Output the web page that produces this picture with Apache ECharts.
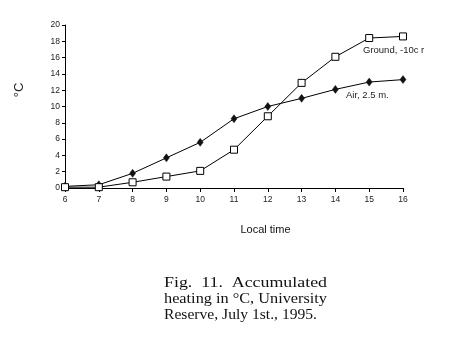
<!DOCTYPE html>
<html><head><meta charset="utf-8">
<script src="https://cdn.jsdelivr.net/npm/echarts@6/dist/echarts.min.js"></script>
<style>html,body{margin:0;padding:0;background:#fff}#c{width:450px;height:350px}</style>
</head><body><div id="c"></div>
<script>
var hours = [6,7,8,9,10,11,12,13,14,15,16];
var airValues = [0.2,0.4,1.8,3.7,5.6,8.5,10.0,11.0,12.1,13.0,13.3];
var groundValues = [0.1,0.1,0.7,1.4,2.1,4.7,8.8,12.9,16.1,18.4,18.6];
var airLabel = 'Air, 2.5 m.';
var groundLabel = 'Ground, -10c r';
var yTitle = '°C';
var xTitle = 'Local time';
var caption = ['Fig.  11.  Accumulated', 'heating in °C, University', 'Reserve, July 1st., 1995.'];

function pairs(xs, ys){ return xs.map(function(x,i){return [x, ys[i]];}); }
var capFont = '15.5px Liberation Serif, Times New Roman';
var capTargets = [163, 163, 153];
var capCenters = [283.3, 298.8, 315.3];
var mctx = document.createElement('canvas').getContext('2d');
mctx.font = capFont;
var capGraphics = caption.map(function(line, i){
  var w = mctx.measureText(line).width;
  return {type:'text', x:164, y:capCenters[i], scaleX: capTargets[i]/w, scaleY:1,
    style:{text:line, font:capFont, fill:'#111', verticalAlign:'middle', align:'left'}};
});

var chart = echarts.init(document.getElementById('c'), null, {renderer:'canvas'});
var axisFont = {fontFamily:'Liberation Sans, Arial', fontSize:8.5, color:'#222'};
chart.setOption({
  animation:false,
  backgroundColor:'#fff',
  grid:{left:65, right:47, top:25, bottom:162},
  xAxis:{type:'value', min:6, max:16, interval:1,
    axisLine:{lineStyle:{color:'#000', width:1}},
    axisTick:{inside:false, length:4, lineStyle:{color:'#000'}},
    splitLine:{show:false},
    axisLabel:Object.assign({margin:7}, axisFont)},
  yAxis:{type:'value', min:0, max:20, interval:2,
    axisLine:{show:true, lineStyle:{color:'#000', width:1}},
    axisTick:{show:true, length:3, lineStyle:{color:'#000'}},
    splitLine:{show:false},
    axisLabel:Object.assign({margin:5}, axisFont)},
  series:[
    {type:'line', name:'Air', data:pairs(hours, airValues), symbol:'diamond', symbolSize:[6,8],
     lineStyle:{color:'#000', width:1}, itemStyle:{color:'#111', borderColor:'#111', borderWidth:0.5}, z:3},
    {type:'line', name:'Ground', data:pairs(hours, groundValues), symbol:'rect', symbolSize:7,
     lineStyle:{color:'#000', width:1}, itemStyle:{color:'#fff', borderColor:'#000', borderWidth:1}, z:4}
  ],
  graphic:[
    {type:'text', x:363, y:50, style:{text:groundLabel, font:'9.5px Liberation Sans, Arial', fill:'#222', verticalAlign:'middle'}},
    {type:'text', x:346, y:95, style:{text:airLabel, font:'9.5px Liberation Sans, Arial', fill:'#222', verticalAlign:'middle'}},
    {type:'text', x:19, y:90, rotation:Math.PI/2, style:{text:yTitle, font:'13px Liberation Sans, Arial', fill:'#222', align:'center', verticalAlign:'middle'}},
    {type:'text', x:265.5, y:230, style:{text:xTitle, font:'11px Liberation Sans, Arial', fill:'#111', align:'center', verticalAlign:'middle'}}
  ].concat(capGraphics)
});
</script></body></html>
